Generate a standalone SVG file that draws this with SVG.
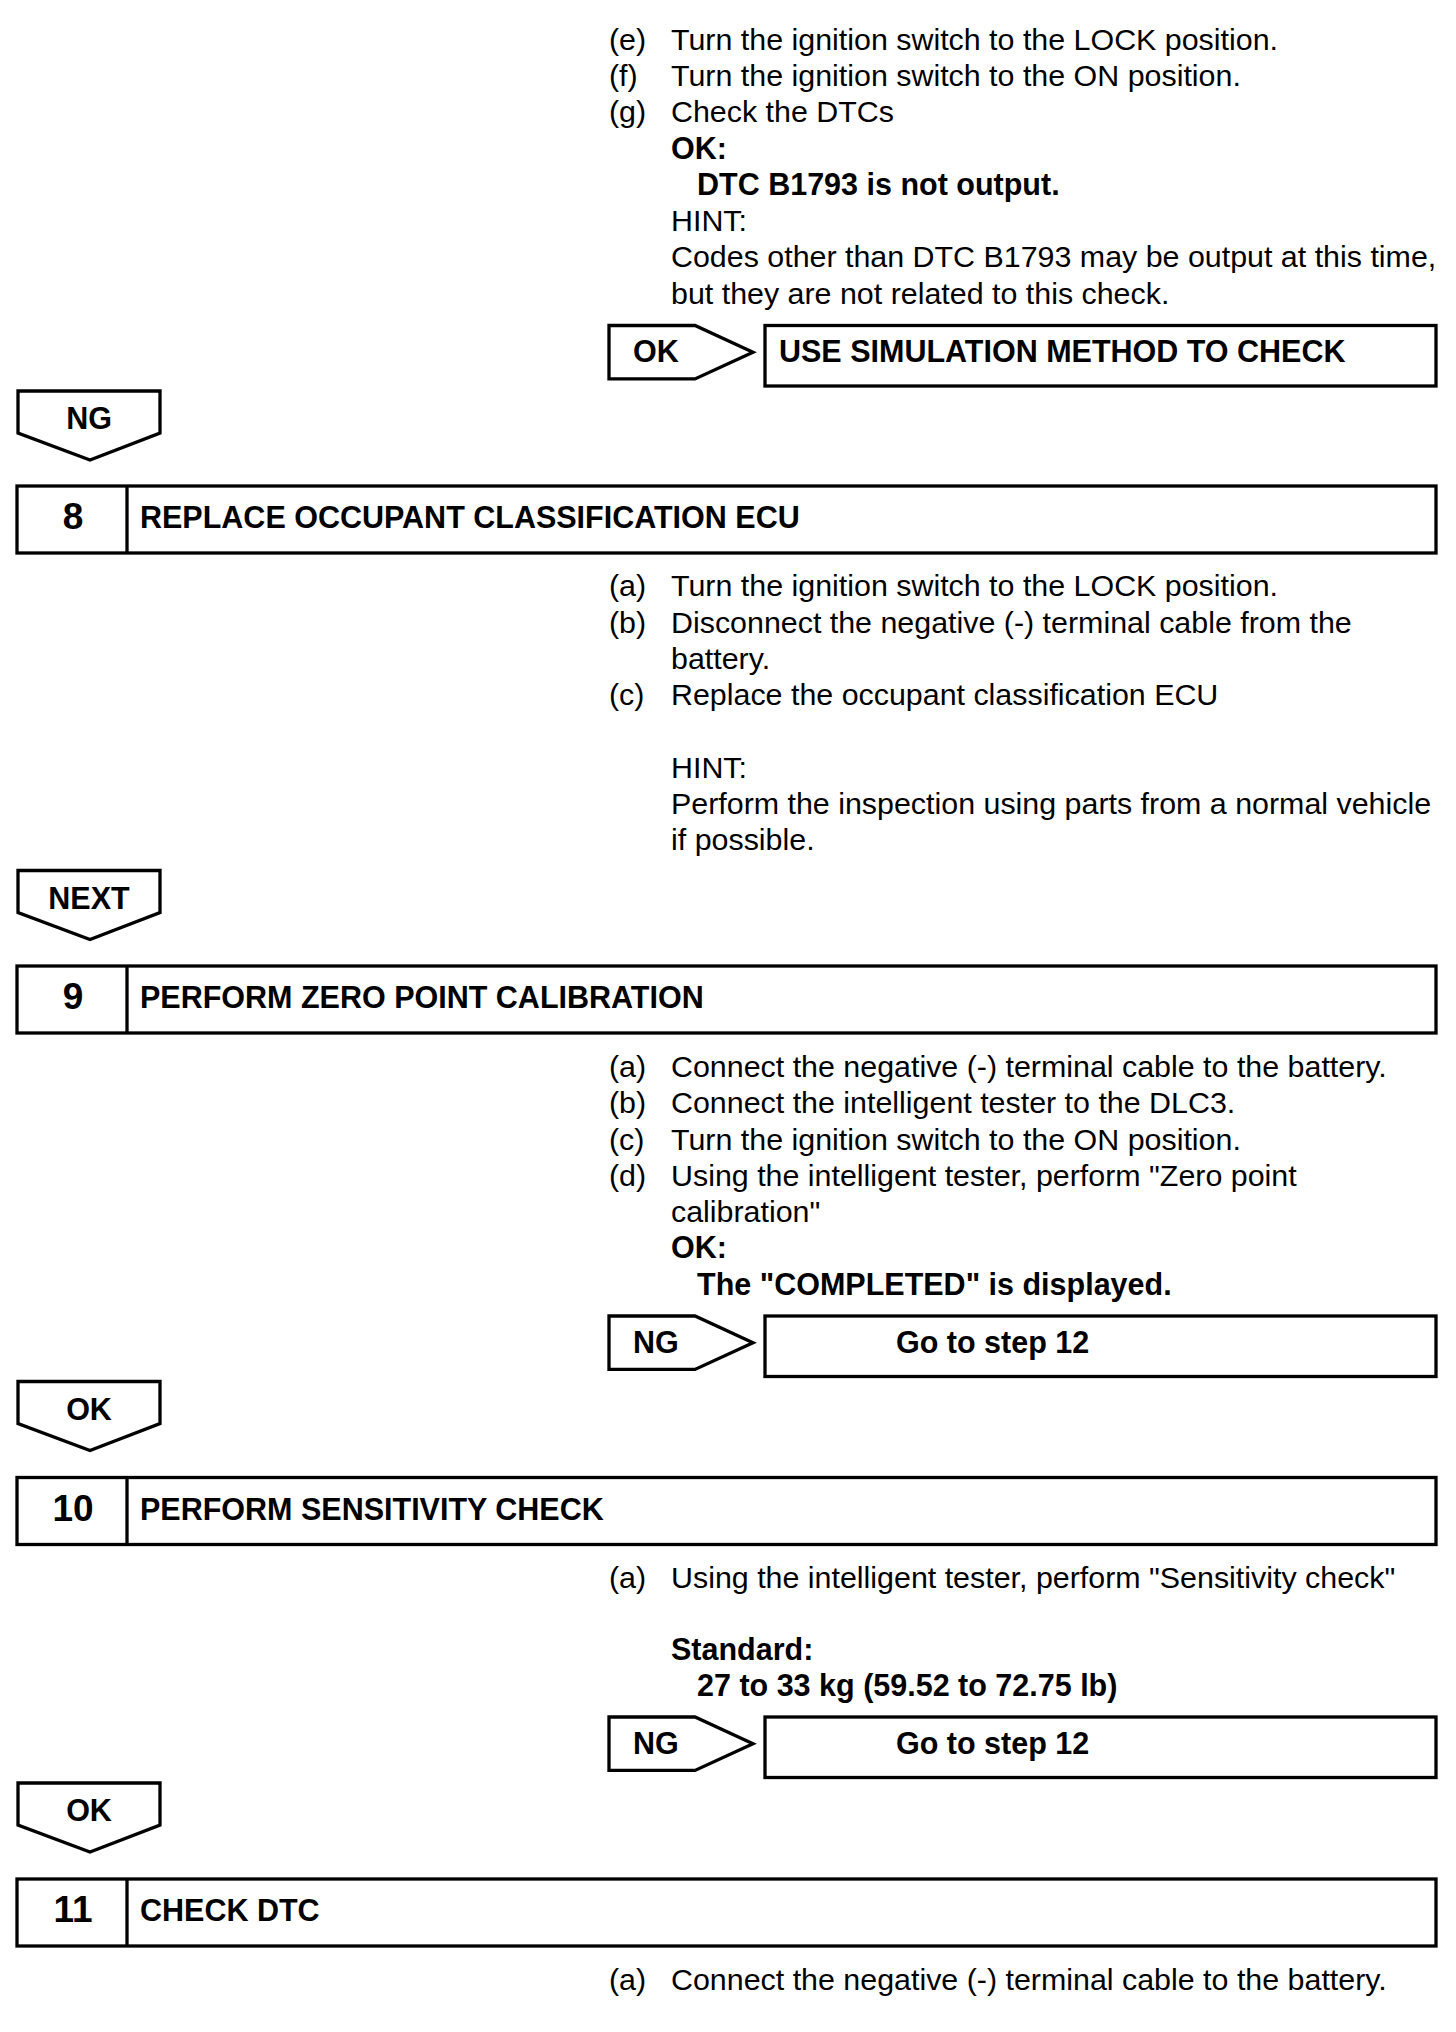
<svg xmlns="http://www.w3.org/2000/svg" width="1456" height="2032" viewBox="0 0 1456 2032">
<style>
.t{font-family:"Liberation Sans",Arial,sans-serif;font-size:30.4px;fill:#000}
.b{font-family:"Liberation Sans",Arial,sans-serif;font-size:30.5px;font-weight:bold;fill:#000}
.n{font-family:"Liberation Sans",Arial,sans-serif;font-size:37px;font-weight:bold;fill:#000;text-anchor:middle}
.c{text-anchor:middle}
.s{fill:#fff;stroke:#000;stroke-width:3.3;stroke-linejoin:miter}
</style>
<defs>
<path id="down" d="M18,0 H160 V42 L90,69 L18,42 Z"/>
<path id="right" d="M609,0 H695 L753,26.7 L695,53.4 H609 Z"/>
</defs>
<rect width="1456" height="2032" fill="#fff"/>

<g id="text-step7">
<text class="t" x="609" y="50">(e)</text><text class="t" x="671" y="50">Turn the ignition switch to the LOCK position.</text>
<text class="t" x="609" y="86">(f)</text><text class="t" x="671" y="86">Turn the ignition switch to the ON position.</text>
<text class="t" x="609" y="122">(g)</text><text class="t" x="671" y="122">Check the DTCs</text>
<text class="b" x="671" y="158.5">OK:</text>
<text class="b" x="697" y="195">DTC B1793 is not output.</text>
<text class="t" x="671" y="231">HINT:</text>
<text class="t" x="671" y="267">Codes other than DTC B1793 may be output at this time,</text>
<text class="t" x="671" y="303.5">but they are not related to this check.</text>
</g>

<g id="result-use-simulation">
<rect class="s" x="765" y="325.5" width="671" height="60.5"/>
<text class="b" x="779" y="362">USE SIMULATION METHOD TO CHECK</text>
</g>

<g id="step8">
<rect class="s" x="17" y="486" width="1419" height="67"/>
<line x1="127" y1="486" x2="127" y2="553" stroke="#000" stroke-width="3.3"/>
<text class="n" x="73" y="529">8</text>
<text class="b" x="140" y="528">REPLACE OCCUPANT CLASSIFICATION ECU</text>
</g>
<g id="text-step8">
<text class="t" x="609" y="596">(a)</text><text class="t" x="671" y="596">Turn the ignition switch to the LOCK position.</text>
<text class="t" x="609" y="632.5">(b)</text><text class="t" x="671" y="632.5">Disconnect the negative (-) terminal cable from the</text>
<text class="t" x="671" y="669">battery.</text>
<text class="t" x="609" y="705">(c)</text><text class="t" x="671" y="705">Replace the occupant classification ECU</text>
<text class="t" x="671" y="777.5">HINT:</text>
<text class="t" x="671" y="814">Perform the inspection using parts from a normal vehicle</text>
<text class="t" x="671" y="850">if possible.</text>
</g>

<g id="step9">
<rect class="s" x="17" y="966" width="1419" height="67"/>
<line x1="127" y1="966" x2="127" y2="1033" stroke="#000" stroke-width="3.3"/>
<text class="n" x="73" y="1009">9</text>
<text class="b" x="140" y="1008">PERFORM ZERO POINT CALIBRATION</text>
</g>
<g id="text-step9">
<text class="t" x="609" y="1077">(a)</text><text class="t" x="671" y="1077">Connect the negative (-) terminal cable to the battery.</text>
<text class="t" x="609" y="1113">(b)</text><text class="t" x="671" y="1113">Connect the intelligent tester to the DLC3.</text>
<text class="t" x="609" y="1149.5">(c)</text><text class="t" x="671" y="1149.5">Turn the ignition switch to the ON position.</text>
<text class="t" x="609" y="1185.5">(d)</text><text class="t" x="671" y="1185.5">Using the intelligent tester, perform "Zero point</text>
<text class="t" x="671" y="1222">calibration"</text>
<text class="b" x="671" y="1258">OK:</text>
<text class="b" x="697" y="1294.5">The "COMPLETED" is displayed.</text>
</g>

<g id="result-step9-ng">
<rect class="s" x="765" y="1316" width="671" height="60.5"/>
<text class="b" x="896" y="1352.5">Go to step 12</text>
</g>

<g id="step10">
<rect class="s" x="17" y="1477.5" width="1419" height="67"/>
<line x1="127" y1="1477.5" x2="127" y2="1544.5" stroke="#000" stroke-width="3.3"/>
<text class="n" x="73" y="1520.5">10</text>
<text class="b" x="140" y="1519.5">PERFORM SENSITIVITY CHECK</text>
</g>
<g id="text-step10">
<text class="t" x="609" y="1587.5">(a)</text><text class="t" x="671" y="1587.5">Using the intelligent tester, perform "Sensitivity check"</text>
<text class="b" x="671" y="1660">Standard:</text>
<text class="b" x="697" y="1696">27 to 33 kg (59.52 to 72.75 lb)</text>
</g>

<g id="result-step10-ng">
<rect class="s" x="765" y="1717" width="671" height="60.5"/>
<text class="b" x="896" y="1753.5">Go to step 12</text>
</g>

<g id="step11">
<rect class="s" x="17" y="1879" width="1419" height="67"/>
<line x1="127" y1="1879" x2="127" y2="1946" stroke="#000" stroke-width="3.3"/>
<text class="n" x="73" y="1922">11</text>
<text class="b" x="140" y="1921">CHECK DTC</text>
</g>
<g id="text-step11">
<text class="t" x="609" y="1990">(a)</text><text class="t" x="671" y="1990">Connect the negative (-) terminal cable to the battery.</text>
</g>

<g id="connectors">
<g id="arrow-ok-simulation">
<use href="#right" class="s" y="325.5"/>
<text class="b" x="633" y="362">OK</text>
</g>
<g id="arrow-ng-8">
<use href="#down" class="s" y="391"/>
<text class="b c" x="89" y="429">NG</text>
</g>
<g id="arrow-next-9">
<use href="#down" class="s" y="870.5"/>
<text class="b c" x="89" y="908.5">NEXT</text>
</g>
<g id="arrow-ng-step12a">
<use href="#right" class="s" y="1316"/>
<text class="b" x="633" y="1352.5">NG</text>
</g>
<g id="arrow-ok-10">
<use href="#down" class="s" y="1381.5"/>
<text class="b c" x="89" y="1419.5">OK</text>
</g>
<g id="arrow-ng-step12b">
<use href="#right" class="s" y="1717"/>
<text class="b" x="633" y="1753.5">NG</text>
</g>
<g id="arrow-ok-11">
<use href="#down" class="s" y="1783"/>
<text class="b c" x="89" y="1821">OK</text>
</g>
</g>
</svg>
